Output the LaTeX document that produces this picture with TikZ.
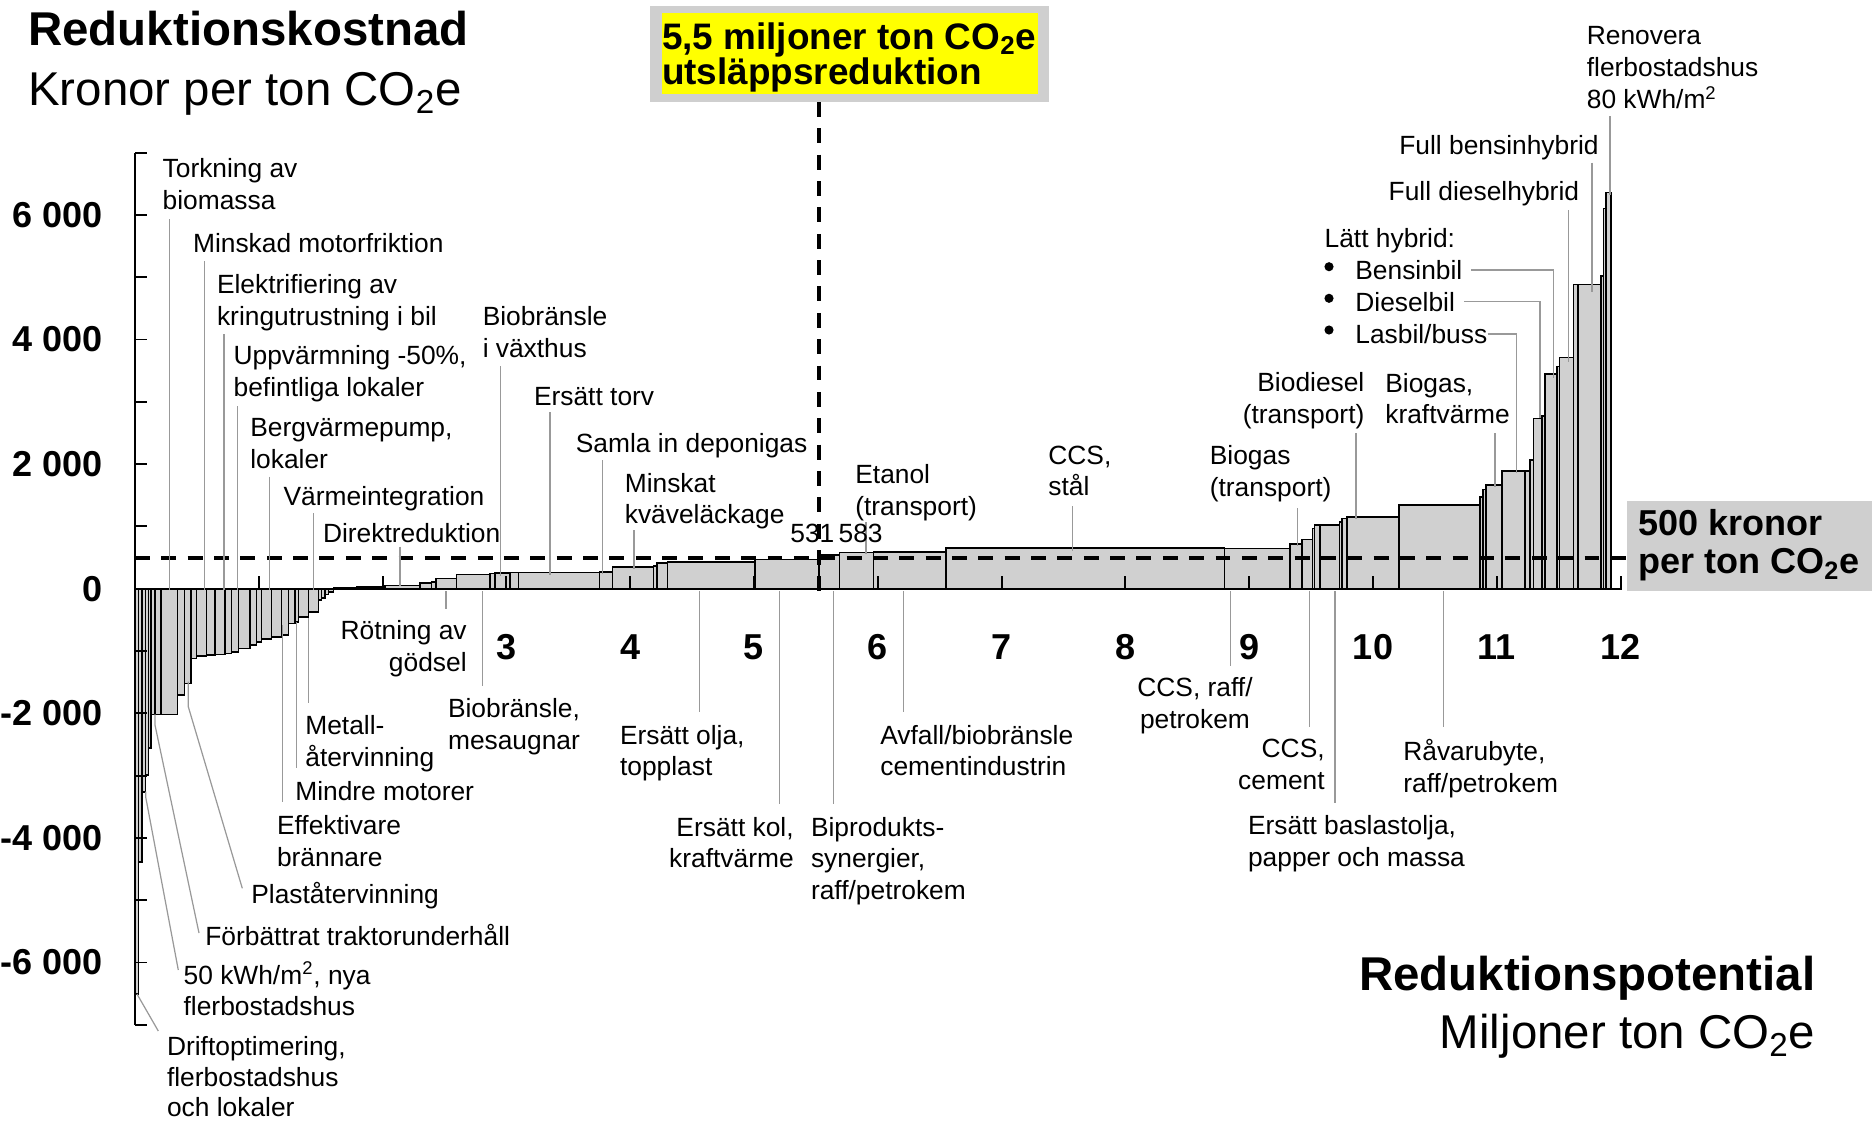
\documentclass[tikz,border=0pt]{standalone}
\usepackage{fontspec}
\setmainfont{Liberation Sans}
\definecolor{barfill}{HTML}{D0D0D0}
\definecolor{leadgray}{HTML}{999999}
\definecolor{boxgray}{HTML}{CFCFCF}
\definecolor{hiyellow}{HTML}{FFFF00}
\begin{document}
\begin{tikzpicture}[x=0.02cm, y=-0.02cm,
    bar/.style={draw=black, fill=barfill, line width=0.9pt},
    axisline/.style={draw=black, line width=1.1pt},
    cutoff/.style={draw=black, line width=1.8pt, dash pattern=on 8.5pt off 6.5pt},
    leader/.style={draw=leadgray, line width=0.7pt},
    lbl/.style={inner sep=0pt, font=\fontsize{15}{18}\selectfont, align=left, anchor=north west},
    lblr/.style={lbl, align=right, anchor=north east},
    ticklbl/.style={inner sep=0pt, font=\fontsize{20.5}{24}\selectfont\bfseries},
    bigtitle/.style={inner sep=0pt, font=\fontsize{27}{32}\selectfont\bfseries, anchor=base west},
    subtitle/.style={inner sep=0pt, font=\fontsize{27}{32}\selectfont, anchor=base west}]

  \useasboundingbox (0,0) rectangle (1872,1123);

  % Bars: left edge / right edge / top (pixel rows)
  \foreach \xa/\xb/\yt in {134.4/138.3/993.7, 138.3/142/861.7, 142/145.7/791.7,
      145.7/148.3/775, 148.3/151/748, 151/155/714.3, 155/161/714.3, 161/177.7/714.3,
      177.7/184.3/695, 184.3/191/683.3, 191/196.7/658.3, 196.7/206.7/656,
      206.7/215/655, 215/225/654.3, 225/231.7/653.3, 231.7/238.3/651.7,
      238.3/250/648.3, 250/256.7/645, 256.7/261.7/641.7, 261.7/271.7/639,
      271.7/281.7/636.7, 281.7/288.3/635, 288.3/295/623.3, 295/298.3/621.7,
      298.3/308.3/616.7, 308.3/318.3/611.7, 318.3/321.7/600, 321.7/325/597.7,
      325/328.3/594.3, 328.3/333.3/591.7,
      333.3/340/588, 340/356.7/587.5, 356.7/381.7/587, 381.7/385/587,
      385/420/585.3, 420/431.7/582.7, 431.7/436/581.7, 436/456.7/578.3,
      456.7/490/574.3, 490/495/573.3, 495/510/572.7, 510/518.3/572.3,
      518.3/599.3/572.3, 599.3/612.7/571.7, 612.7/653.3/566.7, 653.3/656.7/566,
      656.7/667.3/562.7, 667.3/755/561.7, 755/819/559.3, 819/839.3/555,
      839.3/873.3/552.3, 873.3/946/551.7, 946/1224.3/547.7, 1224.3/1290/548.3,
      1290/1301.7/544, 1301.7/1312.3/539.3, 1312.3/1314.3/528.3, 1314.3/1320/525,
      1320/1339.3/525, 1339.3/1341.7/521.7, 1341.7/1346.7/518.3, 1346.7/1399/516.7,
      1399/1480/505, 1480/1482.7/496.7, 1482.7/1486/489.3, 1486/1501.7/485,
      1501.7/1525/471, 1525/1530/471, 1530/1533.3/460, 1533.3/1541.7/418.3,
      1541.7/1545/416, 1545/1556.7/374, 1556.7/1559.3/366.7, 1559.3/1573.3/357.3,
      1573.3/1577.7/284.3, 1577.7/1600.7/284.3, 1600.7/1603.3/276,
      1603.3/1606/208.3, 1606/1610.7/192.7}
    \draw[bar] (\xa,589) rectangle (\xb,\yt);

  % Cut-off lines
  \draw[cutoff] (135,558) -- (1627,558);
  \draw[cutoff] (819,102) -- (819,598);

  % Axes and ticks
  \draw[axisline] (135,{588.7-62.3*7}) -- (135,{588.7+62.3*7});
  \draw[axisline] (135,589) -- (1622,589);
  \foreach \k in {-7,...,7}
    \draw[axisline] (135,{588.7-62.3*(\k)}) -- ++(12,0);
  \foreach \k in {1,...,12}
    \draw[axisline] ({135+123.8*\k},589) -- ++(0,-13);

  % Tick labels
  \foreach \v/\lab in {6/6 000, 4/4 000, 2/2 000, 0/0, -2/-2 000, -4/-4 000, -6/-6 000}
    \node[ticklbl, anchor=east] at (103,{588.7-62.3*(\v)}) {\lab};
  \foreach \k in {3,...,12}
    \node[ticklbl] at ({135+123.8*\k},647) {\k};

  % Axis titles
  \node[bigtitle] (ykost) at (28,45) {Reduktionskostnad};
  \node[subtitle] (yunit) at (28,105) {Kronor per ton CO\textsubscript{2}e};
  \node[bigtitle, anchor=base east] (xpot) at (1815.5,990) {Reduktionspotential};
  \node[subtitle, anchor=base east] (xunit) at (1815.5,1048) {Miljoner ton CO\textsubscript{2}e};

  % Highlight boxes
  \fill[boxgray] (650,6) rectangle (1049,102);
  \fill[hiyellow] (662,13) rectangle (1038,94);
  \node[inner sep=0pt, anchor=base west, font=\fontsize{21}{20}\selectfont\bfseries] (cut55a) at (661.7,49.5) {5,5 miljoner ton CO\textsubscript{2}e};
  \node[inner sep=0pt, anchor=base west, font=\fontsize{21}{20}\selectfont\bfseries] (cut55b) at (661.7,84.5) {utsläppsreduktion};
  \fill[boxgray] (1627,501) rectangle (1872,591);
  \node[inner sep=0pt, anchor=north west, align=left, font=\fontsize{20.5}{21.5}\selectfont\bfseries] (kr500) at (1638,509.5) {500 kronor\\per ton CO\textsubscript{2}e};

  % Labels above the axis
  \node[lbl] (tork) at (162.3,158.3) {Torkning av\\biomassa};
  \draw[leader] (169.3,219.3) -- (169.3,590);
  \node[lbl] (motor) at (192.7,232.7) {Minskad motorfriktion};
  \draw[leader] (204.7,261) -- (204.7,590);
  \node[lbl] (elektr) at (216.7,274) {Elektrifiering av\\kringutrustning i bil};
  \draw[leader] (224,334.3) -- (224,590);
  \node[lbl] (uppv) at (233.3,345) {Uppvärmning -50\%,\\befintliga lokaler};
  \draw[leader] (237.7,406) -- (237.7,590);
  \node[lbl] (berg) at (250,418.3) {Bergvärmepump,\\lokaler};
  \draw[leader] (269.3,476.7) -- (269.3,590);
  \node[lbl] (varme) at (283.3,486) {Värmeintegration};
  \draw[leader] (313.3,513.3) -- (313.3,590);
  \node[lbl] (direkt) at (322.7,522.7) {Direktreduktion};
  \draw[leader] (400,546.7) -- (400,586);
  \node[lbl] (vaxthus) at (482.4,306) {Biobränsle\\i växthus};
  \draw[leader] (500.7,366) -- (500.7,576);
  \node[lbl] (torv) at (533.7,387) {Ersätt torv};
  \draw[leader] (550,412) -- (550,575);
  \node[lbl] (deponi) at (575.5,433) {Samla in deponigas};
  \draw[leader] (602.7,460) -- (602.7,574);
  \node[lbl] (kvave) at (624.5,472.8) {Minskat\\kväveläckage};
  \draw[leader] (634,530) -- (634,569);
  \node[lbl] (etanol) at (855,464.5) {Etanol\\(transport)};
  \draw[leader] (866,522) -- (866,554);
  \node[lbl, anchor=base west] (v531) at (790,542) {531};
  \node[lbl, anchor=base west] (v583) at (838.3,542) {583};
  \node[lbl] (stal) at (1048,445.3) {CCS,\\stål};
  \draw[leader] (1072.3,506) -- (1072.3,551);
  \node[lbl] (biogastr) at (1209.5,445.3) {Biogas\\(transport)};
  \draw[leader] (1297.3,508) -- (1297.3,546);
  \node[lblr] (biodiesel) at (1364.7,372) {Biodiesel\\(transport)};
  \draw[leader] (1356,433.3) -- (1356,519);
  \node[lbl] (biogaskv) at (1385,372.7) {Biogas,\\kraftvärme};
  \draw[leader] (1495,433.3) -- (1495,487);

  % Hybrid list
  \node[lbl] (latt) at (1324.3,228.3) {Lätt hybrid:};
  \node[lbl] (bensin) at (1355,260) {Bensinbil};
  \node[lbl] (diesel) at (1355,291.7) {Dieselbil};
  \node[lbl] (lasbil) at (1355,324) {Lasbil/buss};
  \foreach \yb in {266.7,298.3,330}
    \fill (1329,\yb) circle[radius=2.6pt];
  \draw[leader] ([xshift=5pt]bensin.east) -| (1553.3,378.3);
  \draw[leader] ([xshift=5pt]diesel.east) -| (1540,418.3);
  \draw[leader] (lasbil.east) -| (1516.7,473.3);
  \node[lbl] (fulldiesel) at (1388.3,181.5) {Full dieselhybrid};
  \draw[leader] (1568.3,210) -- (1568.3,361.7);
  \node[lbl] (fullbensin) at (1399,135) {Full bensinhybrid};
  \draw[leader] (1592,162.7) -- (1592,291.7);
  \node[lbl] (renovera) at (1586.5,26.5) {Renovera\\flerbostadshus\\80 kWh/m\textsuperscript{2}};
  \draw[leader] (1610,116) -- (1610,195);

  % Labels below the axis
  \node[lblr] (rotning) at (467,620.5) {Rötning av\\gödsel};
  \draw[leader] (446,591) -- (446,609);
  \node[lbl] (mesa) at (447.7,698.5) {Biobränsle,\\mesaugnar};
  \draw[leader] (482.7,591) -- (482.7,686);
  \node[lbl] (metall) at (305,715.5) {Metall-\\återvinning};
  \draw[leader] (308.3,618) -- (308.3,703);
  \node[lbl] (mindre) at (295,781) {Mindre motorer};
  \draw[leader] (296.7,621.7) -- (296.7,768);
  \node[lbl] (effekt) at (276.7,815) {Effektivare\\brännare};
  \draw[leader] (282.3,625) -- (282.3,802);
  \node[lbl] (plast) at (251,881.5) {Plaståtervinning};
  \draw[leader] (188.3,681.7) -- (188.3,706.7) -- (242.3,888.3);
  \node[lbl] (trakt) at (205,924) {Förbättrat traktorunderhåll};
  \draw[leader] (155,714.3) -- (155,725) -- (199,933);
  \node[lbl] (kwh50) at (183.3,961.7) {50 kWh/m\textsuperscript{2}, nya\\flerbostadshus};
  \draw[leader] (145.7,791.7) -- (145.7,797) -- (178.3,970);
  \node[lbl, font=\fontsize{15}{17.5}\selectfont] (drift) at (166.7,1036) {Driftoptimering,\\flerbostadshus\\och lokaler};
  \draw[leader] (137,994) -- (158.3,1031);
  \node[lbl] (olja) at (619.7,724.7) {Ersätt olja,\\topplast};
  \draw[leader] (699.3,591) -- (699.3,712);
  \node[lblr] (kol) at (794,816.7) {Ersätt kol,\\kraftvärme};
  \draw[leader] (779.3,591) -- (779.3,804);
  \node[lbl] (biprod) at (810.7,816.7) {Biprodukts-\\synergier,\\raff/petrokem};
  \draw[leader] (833.3,591) -- (833.3,804);
  \node[lbl] (avfall) at (880,724.7) {Avfall/biobränsle\\cementindustrin};
  \draw[leader] (903.3,591) -- (903.3,712);
  \node[lbl, align=center, anchor=north] (ccsraff) at (1195,677) {CCS, raff/\\petrokem};
  \draw[leader] (1230.7,591) -- (1230.7,666);
  \node[lblr] (ccscem) at (1325,739) {CCS,\\cement};
  \draw[leader] (1309.3,591) -- (1309.3,727);
  \node[lbl] (baslast) at (1247.7,815.5) {Ersätt baslastolja,\\papper och massa};
  \draw[leader] (1335,591) -- (1335,803);
  \node[lbl] (ravaru) at (1403,739) {Råvarubyte,\\raff/petrokem};
  \draw[leader] (1443.3,591) -- (1443.3,727);

\end{tikzpicture}
\end{document}
